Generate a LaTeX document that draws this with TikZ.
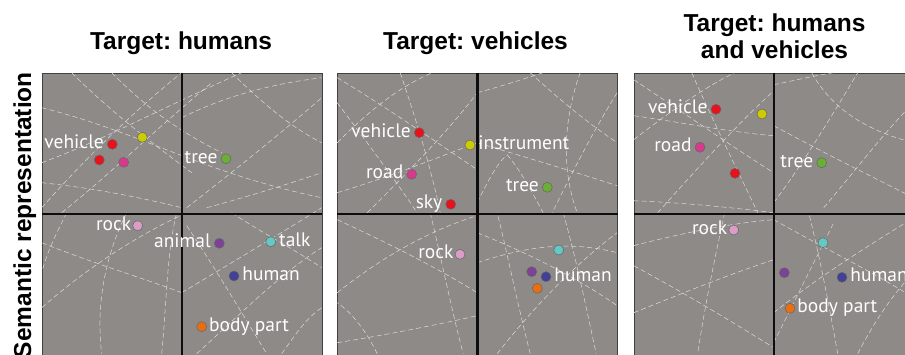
\documentclass[tikz,border=0pt]{standalone}
\usepackage{fontspec}
\setmainfont{Liberation Sans}
\newfontfamily\dotfont{PT Sans}
\usetikzlibrary{positioning}
\frenchspacing
\definecolor{panelgray}{RGB}{141,138,136}
\definecolor{dashgray}{RGB}{222,220,218}
\definecolor{cred}{RGB}{232,18,28}
\definecolor{cyellow}{RGB}{204,204,0}
\definecolor{cmagenta}{RGB}{214,58,140}
\definecolor{cgreen}{RGB}{106,174,54}
\definecolor{cpink}{RGB}{218,157,200}
\definecolor{cpurple}{RGB}{125,65,150}
\definecolor{ccyan}{RGB}{100,200,196}
\definecolor{cblue}{RGB}{66,64,152}
\definecolor{corange}{RGB}{232,110,20}

\begin{document}
\begin{tikzpicture}[x=1pt,y=-1pt,
  panel/.style={draw=black!75,line width=0.6pt,fill=panelgray,minimum width=280pt,minimum height=282pt,inner sep=0pt},
  axis/.style={line width=2.6pt,black!95},
  grid/.style={dashgray,line width=0.5pt,dash pattern=on 5pt off 3pt},
  pt/.style={circle,draw=black!60,line width=0.5pt,minimum size=10pt,inner sep=0pt},
  lbl/.style={text=white,inner sep=0pt,font=\dotfont\fontsize{19.5}{19.5}\selectfont,yshift=-4.5pt},
  title/.style={font=\bfseries\fontsize{24.5}{26.7}\selectfont,inner sep=0pt}]
\useasboundingbox (0,0) rectangle (905,354);

% panels
\foreach \p/\x in {p1/182, p2/477.5, p3/774}
  \node[panel] (\p) at (\x,214) {};

% dashed curves, panel 1
\begin{scope}
\clip (p1.south west) rectangle (p1.north east);
\begin{scope}[shift={(p1.north west)}]
\draw[grid] (0,90) .. controls (60,68) and (110,40) .. (200,0);
\draw[grid] (0,35) .. controls (100,60) and (160,100) .. (280,125);
\draw[grid] (30,0) .. controls (70,40) and (110,70) .. (150,100);
\draw[grid] (70,0) .. controls (100,30) and (130,55) .. (180,80);
\draw[grid] (0,135) .. controls (40,90) and (90,40) .. (140,0);
\draw[grid] (20,140) .. controls (70,100) and (110,60) .. (170,10);
\draw[grid] (0,110) .. controls (50,115) and (100,125) .. (140,135);
\draw[grid] (140,45) .. controls (190,20) and (240,10) .. (280,5);
\draw[grid] (190,0) .. controls (220,30) and (250,55) .. (280,70);
\draw[grid] (145,135) .. controls (190,100) and (240,60) .. (280,25);
\draw[grid] (165,135) .. controls (220,120) and (250,110) .. (280,100);
\draw[grid] (85,140) .. controls (60,190) and (55,240) .. (60,281);
\draw[grid] (0,170) .. controls (50,190) and (100,205) .. (140,220);
\draw[grid] (0,235) .. controls (40,200) and (90,165) .. (145,140);
\draw[grid] (25,140) .. controls (15,160) and (5,180) .. (0,200);
\draw[grid] (120,281) .. controls (125,230) and (125,180) .. (135,140);
\draw[grid] (140,220) .. controls (190,190) and (240,160) .. (280,135);
\draw[grid] (155,281) .. controls (200,240) and (240,200) .. (280,175);
\draw[grid] (145,153) .. controls (170,190) and (200,240) .. (225,281);
\draw[grid] (190,140) .. controls (220,160) and (250,175) .. (280,195);
\draw[grid] (240,281) .. controls (255,260) and (265,245) .. (280,235);
\end{scope}
\end{scope}

% dashed curves, panel 2
\begin{scope}
\clip (p2.south west) rectangle (p2.north east);
\begin{scope}[shift={(p2.north west)}]
\draw[grid] (0,5) .. controls (50,35) and (100,70) .. (140,97);
\draw[grid] (0,70) .. controls (30,40) and (60,15) .. (95,0);
\draw[grid] (63,0) .. controls (80,50) and (95,100) .. (103,140);
\draw[grid] (0,120) .. controls (50,105) and (100,85) .. (140,70);
\draw[grid] (0,30) .. controls (30,70) and (60,110) .. (80,140);
\draw[grid] (30,140) .. controls (70,100) and (110,60) .. (140,20);
\draw[grid] (243,0) .. controls (225,50) and (225,100) .. (240,140);
\draw[grid] (140,130) .. controls (150,110) and (160,90) .. (170,82);
\draw[grid] (170,82) .. controls (185,100) and (195,120) .. (206,140);
\draw[grid] (140,20) .. controls (170,12) and (190,5) .. (206,0);
\draw[grid] (193,0) .. controls (220,25) and (250,50) .. (280,70);
\draw[grid] (140,70) .. controls (190,85) and (240,100) .. (280,113);
\draw[grid] (280,20) .. controls (255,60) and (235,100) .. (215,140);
\draw[grid] (0,270) .. controls (50,262) and (100,252) .. (140,243);
\draw[grid] (0,220) .. controls (50,180) and (100,155) .. (140,143);
\draw[grid] (0,147) .. controls (50,170) and (100,195) .. (140,220);
\draw[grid] (93,140) .. controls (105,190) and (115,240) .. (126,281);
\draw[grid] (40,281) .. controls (30,260) and (15,240) .. (0,230);
\draw[grid] (140,160) .. controls (190,180) and (240,205) .. (280,233);
\draw[grid] (160,281) .. controls (200,230) and (240,190) .. (280,160);
\draw[grid] (226,140) .. controls (240,190) and (250,240) .. (259,281);
\draw[grid] (140,190) .. controls (200,170) and (240,170) .. (280,180);
\draw[grid] (193,281) .. controls (180,230) and (170,180) .. (160,140);
\end{scope}
\end{scope}

% dashed curves, panel 3
\begin{scope}
\clip (p3.south west) rectangle (p3.north east);
\begin{scope}[shift={(p3.north west)}]
\draw[grid] (0,7) .. controls (50,40) and (100,75) .. (140,100);
\draw[grid] (0,67) .. controls (35,40) and (70,15) .. (101,0);
\draw[grid] (0,128) .. controls (50,130) and (100,135) .. (140,140);
\draw[grid] (24,140) .. controls (60,100) and (100,55) .. (138,20);
\draw[grid] (0,43) .. controls (50,50) and (100,60) .. (140,63);
\draw[grid] (58,0) .. controls (80,50) and (105,100) .. (124,140);
\draw[grid] (178,0) .. controls (200,40) and (240,60) .. (280,70);
\draw[grid] (140,53) .. controls (190,80) and (240,105) .. (280,125);
\draw[grid] (140,130) .. controls (170,90) and (200,40) .. (224,0);
\draw[grid] (190,135) .. controls (220,100) and (250,60) .. (280,30);
\draw[grid] (140,12) .. controls (160,8) and (180,3) .. (200,0);
\draw[grid] (0,173) .. controls (50,160) and (100,150) .. (140,147);
\draw[grid] (0,240) .. controls (50,220) and (100,200) .. (140,187);
\draw[grid] (0,193) .. controls (50,220) and (100,250) .. (140,275);
\draw[grid] (91,140) .. controls (80,190) and (70,240) .. (64,281);
\draw[grid] (140,147) .. controls (190,175) and (240,200) .. (280,225);
\draw[grid] (140,240) .. controls (190,200) and (240,170) .. (280,145);
\draw[grid] (204,281) .. controls (195,230) and (185,180) .. (175,140);
\draw[grid] (224,281) .. controls (240,250) and (260,220) .. (280,200);
\draw[grid] (140,270) .. controls (160,230) and (180,190) .. (200,150);
\end{scope}
\end{scope}

% axes
\foreach \p in {p1,p2,p3} {
  \draw[axis] (\p.north) -- (\p.south);
  \draw[axis] (\p.west) -- (\p.east);
}

% titles
\node[title,anchor=base] (t1) at (181,49) {Target: humans};
\node[title,anchor=base] (t2) at (475.5,49) {Target: vehicles};
\node[title,anchor=base,align=center] (t3) at (774.5,58.3) {Target: humans\\and vehicles};
\node[title,rotate=90,anchor=base east] (ylab) at (31,72) {Semantic representation};

% target: humans
\node[pt,fill=cred] (hveh) at (112.3,144.3) {};
\node[pt,fill=cred] (hred) at (99.3,160) {};
\node[pt,fill=cmagenta] (hmag) at (123.7,162.3) {};
\node[pt,fill=cyellow] (hyel) at (142.3,137.3) {};
\node[pt,fill=cgreen] (htree) at (226,158.7) {};
\node[pt,fill=cpink] (hrock) at (137.7,225.7) {};
\node[pt,fill=cpurple] (hanim) at (219.3,243.3) {};
\node[pt,fill=ccyan] (htalk) at (270.7,241.7) {};
\node[pt,fill=cblue] (hhum) at (234,276) {};
\node[pt,fill=corange] (hbody) at (201.7,326.7) {};
\node[lbl,base left=3pt of hveh] {vehicle};
\node[lbl,base left=3pt of htree] {tree};
\node[lbl,base left=1pt of hrock] {rock};
\node[lbl,base left=3pt of hanim] {animal};
\node[lbl,base right=3pt of htalk] {talk};
\node[lbl,base right=3pt of hhum] {human};
\node[lbl,base right=2pt of hbody] {body part};

% target: vehicles
\node[pt,fill=cred] (vveh) at (419.3,132.7) {};
\node[pt,fill=cyellow] (vinst) at (470,145) {};
\node[pt,fill=cmagenta] (vroad) at (411.7,174.3) {};
\node[pt,fill=cgreen] (vtree) at (547.3,187.3) {};
\node[pt,fill=cred] (vsky) at (450.7,204.3) {};
\node[pt,fill=cpink] (vrock) at (460,254.3) {};
\node[pt,fill=ccyan] (vtalk) at (558.7,250) {};
\node[pt,fill=cpurple] (vanim) at (531.7,271.7) {};
\node[pt,fill=cblue] (vhum) at (546,276.7) {};
\node[pt,fill=corange] (vbody) at (537.3,288.3) {};
\node[lbl,base left=3pt of vveh] {vehicle};
\node[lbl,base right=3pt of vinst] {instrument};
\node[lbl,base left=3pt of vroad] {road};
\node[lbl,base left=3pt of vtree] {tree};
\node[lbl,base left=3pt of vsky] {sky};
\node[lbl,base left=1pt of vrock] {rock};
\node[lbl,base right=3pt of vhum] {human};

% target: humans and vehicles
\node[pt,fill=cred] (bveh) at (716,109.3) {};
\node[pt,fill=cyellow] (binst) at (762,114) {};
\node[pt,fill=cmagenta] (broad) at (700,147.3) {};
\node[pt,fill=cred] (bsky) at (735,173.3) {};
\node[pt,fill=cgreen] (btree) at (821.7,162.7) {};
\node[pt,fill=cpink] (brock) at (733.7,230) {};
\node[pt,fill=ccyan] (btalk) at (823,242.7) {};
\node[pt,fill=cpurple] (banim) at (784.3,272.7) {};
\node[pt,fill=cblue] (bhum) at (842,277.3) {};
\node[pt,fill=corange] (bbody) at (790,308.3) {};
\node[lbl,base left=3pt of bveh] {vehicle};
\node[lbl,base left=3pt of broad] {road};
\node[lbl,base left=3pt of btree] {tree};
\node[lbl,base left=1pt of brock] {rock};
\node[lbl,base right=3pt of bhum] {human};
\node[lbl,base right=2pt of bbody] {body part};
\end{tikzpicture}
\end{document}
